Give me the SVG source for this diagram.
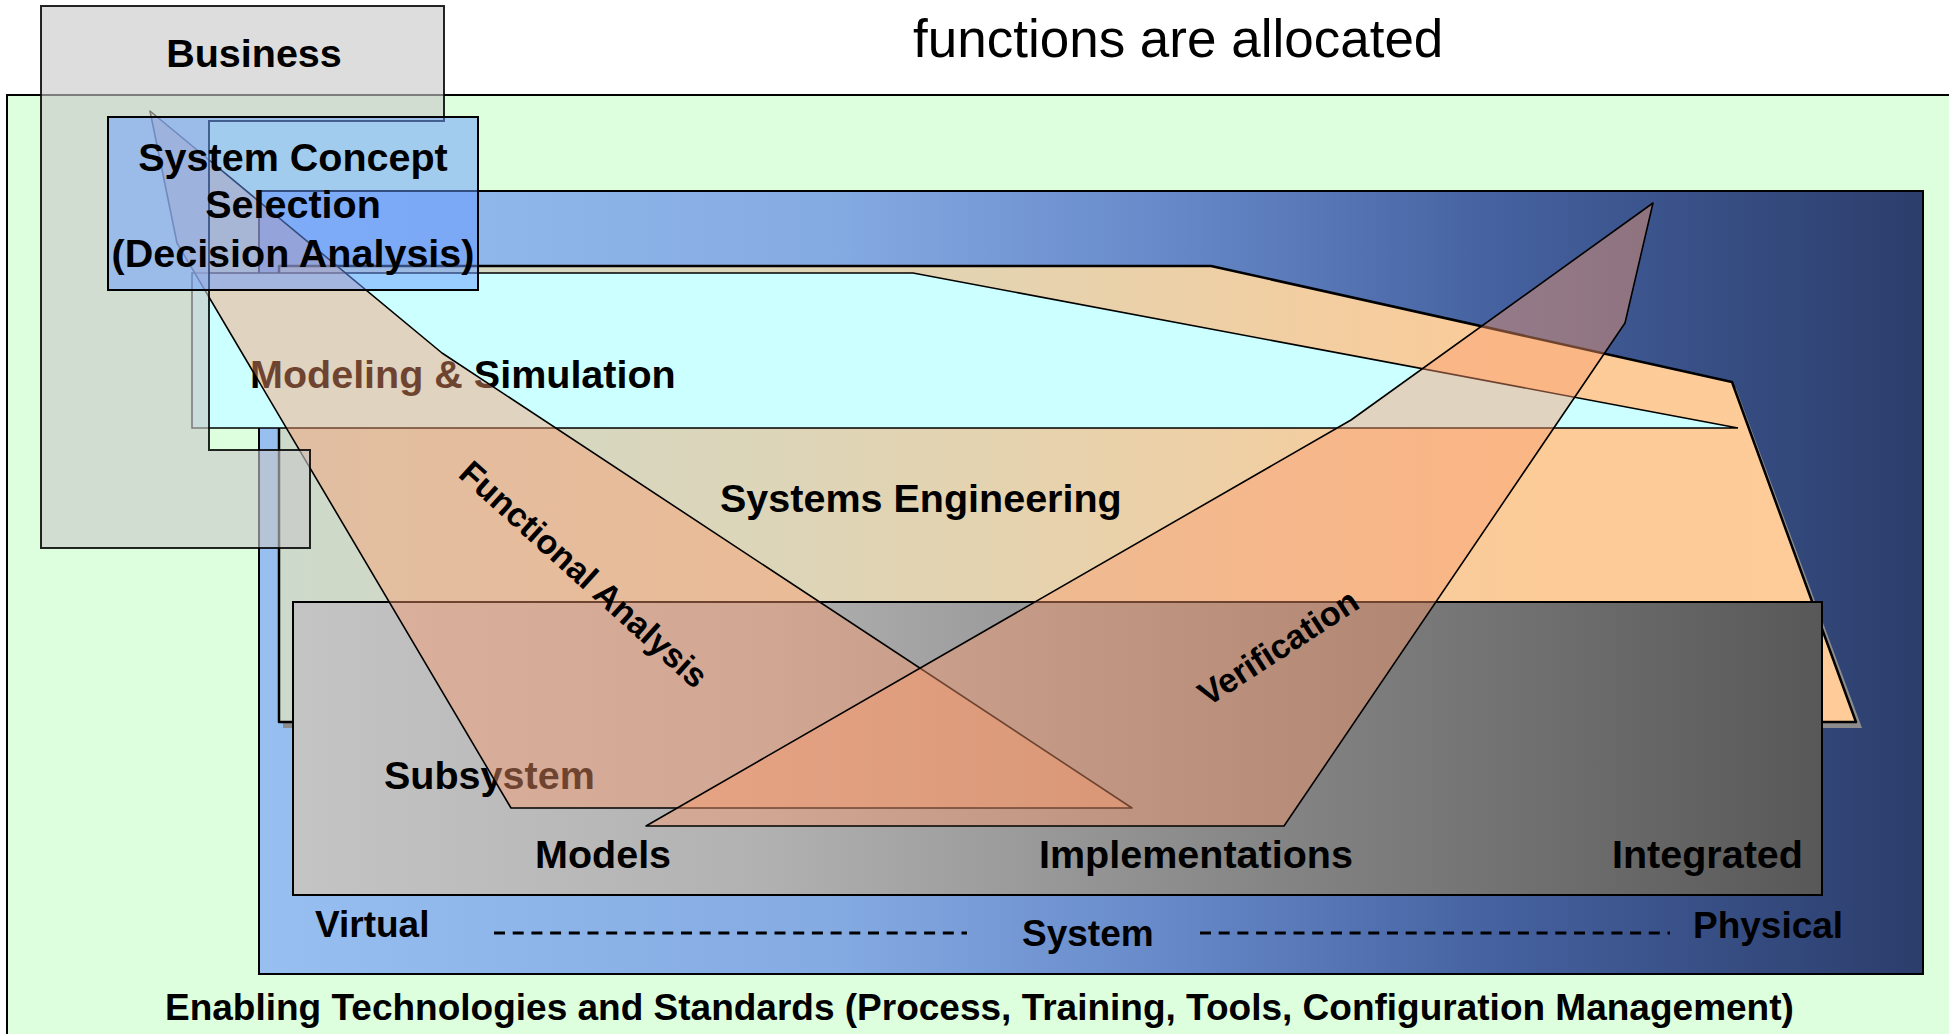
<svg xmlns="http://www.w3.org/2000/svg" width="1949" height="1034" viewBox="0 0 1949 1034">
<defs>
<linearGradient id="gBlue" x1="0" y1="0" x2="1" y2="0">
<stop offset="0" stop-color="#97bff0"/><stop offset="0.35" stop-color="#84aae2"/><stop offset="0.55" stop-color="#6688c8"/><stop offset="0.75" stop-color="#44609e"/><stop offset="1" stop-color="#2b3d6b"/>
</linearGradient>
<linearGradient id="gSE" gradientUnits="userSpaceOnUse" x1="279" y1="0" x2="1856" y2="0">
<stop offset="0" stop-color="#cddacb"/><stop offset="0.45" stop-color="#e4d3b0"/><stop offset="0.78" stop-color="#fbcb98"/><stop offset="1" stop-color="#ffcc99"/>
</linearGradient>
<linearGradient id="gSub" x1="0" y1="0" x2="1" y2="0">
<stop offset="0" stop-color="#c4c4c4"/><stop offset="0.3" stop-color="#b2b2b2"/><stop offset="0.6" stop-color="#8a8a8a"/><stop offset="1" stop-color="#585858"/>
</linearGradient>
</defs>
<style>
.lbl{font-family:"Liberation Sans",Arial,sans-serif;font-weight:bold;font-size:39.5px;fill:#000}
.sm{font-size:37px}
.rot{font-size:34px}
.ttl{font-family:"Liberation Sans",Arial,sans-serif;font-size:53px;fill:#000}
.tri{fill:#fa9b6d;fill-opacity:0.44;stroke:#000;stroke-width:1.6;stroke-linejoin:round}
.dash{stroke:#000;stroke-width:3;stroke-dasharray:11 7.7}
</style>
<rect width="1949" height="1034" fill="#fff"/>
<text class="ttl" x="913" y="57">functions are allocated</text>
<g id="enabling">
<rect x="7" y="95" width="1960" height="960" fill="#ddffdd" stroke="#000" stroke-width="2"/>
</g>
<g id="system">
<rect x="259" y="191" width="1664" height="783" fill="url(#gBlue)" stroke="#000" stroke-width="2"/>
</g>
<g id="systems-engineering">
<polygon points="283,272 1215,272 1736,388 1862,728 283,728" fill="#8c8c8c"/>
<polygon points="279,266 1211,266 1732,382 1856,722 279,722" fill="url(#gSE)" stroke="#000" stroke-width="2.5" stroke-linejoin="round"/>
<text class="lbl" x="720" y="512">Systems Engineering</text>
</g>
<g id="modeling-simulation">
<polygon points="192,273 913,273 1738,428 192,428" fill="#ccffff" stroke="#000" stroke-width="1.6"/>
<text class="lbl" x="250" y="388">Modeling &amp; Simulation</text>
</g>
<g id="subsystem">
<rect x="293" y="602" width="1529" height="293" fill="url(#gSub)" stroke="#000" stroke-width="2"/>
<text class="lbl" x="384" y="789">Subsystem</text>
<text class="lbl" x="535" y="868">Models</text>
<text class="lbl" x="1039" y="868">Implementations</text>
<text class="lbl" x="1612" y="868">Integrated</text>
</g>
<g id="functional-analysis">
<polygon class="tri" points="150,111 442,353 1132,808 511,808 177,243"/>
</g>
<g id="verification">
<polygon class="tri" points="1653,203 1625,323 1284,826 646,826 1351,420"/>
</g>
<g id="business">
<polygon points="41,6 444,6 444,121 209,121 209,450 310,450 310,548 41,548" fill="#c8c8c8" fill-opacity="0.62" stroke="#000" stroke-opacity="0.85" stroke-width="2"/>
<text class="lbl" x="254" y="67" text-anchor="middle">Business</text>
</g>
<g id="system-concept">
<rect x="108" y="117" width="370" height="173" fill="#6699ff" fill-opacity="0.5" stroke="#000" stroke-width="2"/>
<text class="lbl" text-anchor="middle"><tspan x="293" y="171">System Concept</tspan><tspan x="293" y="218">Selection</tspan><tspan x="293" y="267">(Decision Analysis)</tspan></text>
</g>
<g id="labels">
<text class="lbl rot" text-anchor="middle" transform="translate(584,574) rotate(42)" x="0" y="12">Functional Analysis</text>
<text class="lbl rot" text-anchor="middle" transform="translate(1278,647) rotate(-33)" x="0" y="12">Verification</text>
<text class="lbl sm" x="315" y="937">Virtual</text>
<text class="lbl sm" x="1022" y="946">System</text>
<text class="lbl sm" x="1693" y="938">Physical</text>
<text class="lbl sm" x="165" y="1020">Enabling Technologies and Standards (Process, Training, Tools, Configuration Management)</text>
</g>
<g id="connectors">
<line class="dash" x1="494" y1="933" x2="967" y2="933"/>
<line class="dash" x1="1200" y1="933" x2="1670" y2="933"/>
</g>
</svg>
